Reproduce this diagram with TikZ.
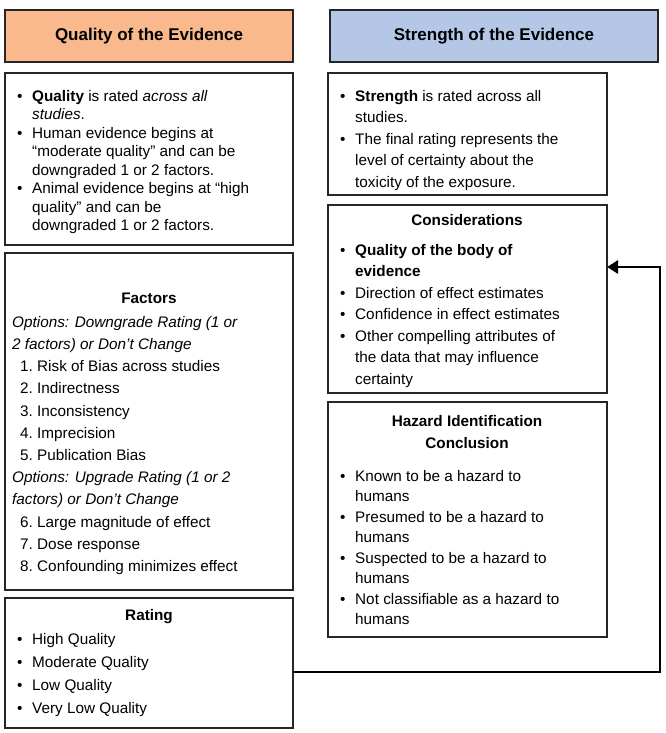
\documentclass[tikz,border=0pt]{standalone}
\usepackage{fontspec}
\setmainfont{Liberation Sans}
\usetikzlibrary{arrows.meta}
\newcommand{\B}{\makebox[15pt][l]{•}}
\newcommand{\C}{\hspace*{15pt}}
\newcommand{\N}[1]{\hspace*{8pt}\makebox[17pt][l]{#1.}}
\begin{document}
\begin{tikzpicture}[x=1pt,y=-1pt,
  box/.style={draw=black!85,line width=1.6pt},
  txt/.style={anchor=north west,inner sep=0pt,align=left},
  ttl/.style={anchor=north,inner sep=0pt,align=center,font=\bfseries\fontsize{15.3}{22}\selectfont},
  ls/.style={font=\fontsize{15.3}{#1}\selectfont},
  hdr/.style={font=\bfseries\fontsize{17}{20}\selectfont}]
\useasboundingbox (0,0) rectangle (666,733);
\definecolor{org}{HTML}{F9B98C}
\definecolor{blu}{HTML}{B4C7E7}
% headers
\draw[box,fill=org] (5,10) rectangle (293,62);
\node[hdr] (h1) at (149,36) {Quality of the Evidence};
\draw[box,fill=blu] (330,10) rectangle (658,62);
\node[hdr] (h2) at (494,36) {Strength of the Evidence};
% left boxes
\draw[box] (5,73) rectangle (293,245);
\node[txt,ls=18.5] (q1) at (17,90) {\B\textbf{Quality} is rated \textit{across all}\\\C\textit{studies}.\\\B Human evidence begins at\\\C“moderate quality” and can be\\\C downgraded 1 or 2 factors.\\\B Animal evidence begins at “high\\\C quality” and can be\\\C downgraded 1 or 2 factors.};
\draw[box] (5,253) rectangle (293,590);
\node[ttl] (f0) at (149,293) {Factors};
\node[txt,ls=22.2] (f1) at (12,316) {\textit{Options: Downgrade Rating (1 or}\\\textit{2 factors) or Don’t Change}\\\N1Risk of Bias across studies\\\N2Indirectness\\\N3Inconsistency\\\N4Imprecision\\\N5Publication Bias\\\textit{Options: Upgrade Rating (1 or 2}\\\textit{factors) or Don’t Change}\\\N6Large magnitude of effect\\\N7Dose response\\\N8Confounding minimizes effect};
\draw[box] (5,598) rectangle (293,728);
\coordinate (rr) at (293,672);
\node[ttl] (r0) at (149,609) {Rating};
\node[txt,ls=23.2] (r1) at (17,633) {\B High Quality\\\B Moderate Quality\\\B Low Quality\\\B Very Low Quality};
% right boxes
\draw[box] (328,73) rectangle (607,195);
\node[txt,ls=21.5] (s1) at (340,90) {\B\textbf{Strength} is rated across all\\\C studies.\\\B The final rating represents the\\\C level of certainty about the\\\C toxicity of the exposure.};
\draw[box] (328,205) rectangle (607,393);
\coordinate (cr) at (607,267);
\node[ttl] (c0) at (467,214) {Considerations};
\node[txt,ls=21.5] (c1) at (340,244) {\B\textbf{Quality of the body of}\\\C\textbf{evidence}\\\B Direction of effect estimates\\\B Confidence in effect estimates\\\B Other compelling attributes of\\\C the data that may influence\\\C certainty};
\draw[box] (328,402) rectangle (607,637);
\node[ttl] (z0) at (467,415) {Hazard Identification\\Conclusion};
\node[txt,ls=20.5] (z1) at (340,470) {\B Known to be a hazard to\\\C humans\\\B Presumed to be a hazard to\\\C humans\\\B Suspected to be a hazard to\\\C humans\\\B Not classifiable as a hazard to\\\C humans};
% connector
\draw[line width=2.8pt,-{Triangle[length=11pt,width=13pt]}] (rr) -- (660,672) -- (660,267) -- (cr);
\end{tikzpicture}
\end{document}
